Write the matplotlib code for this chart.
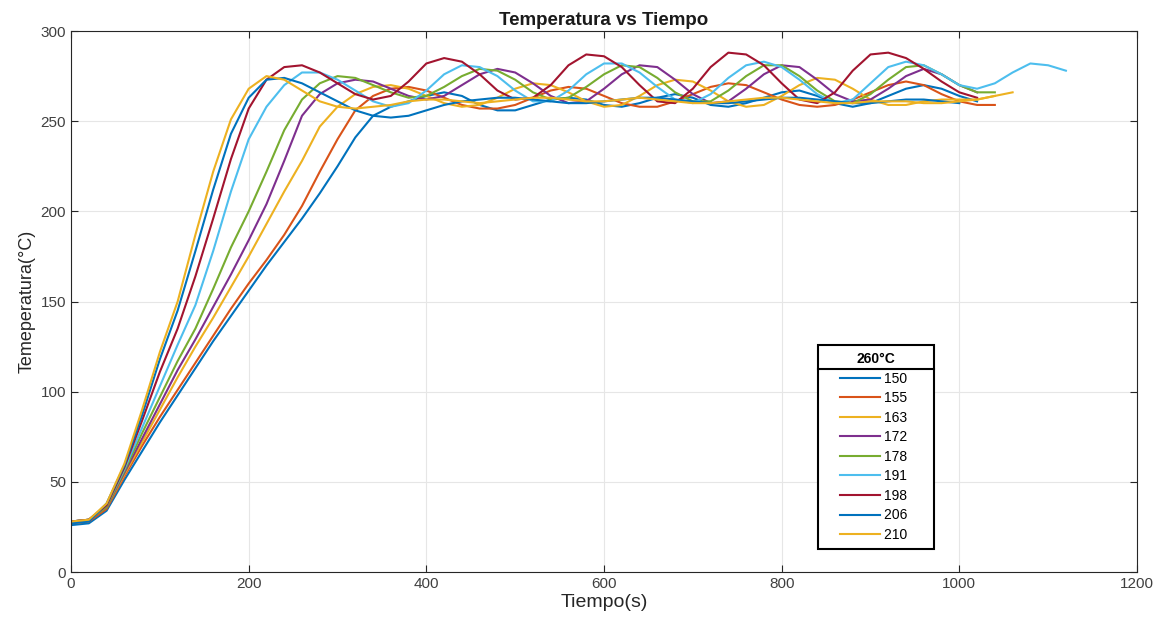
import matplotlib
matplotlib.use('Agg')
import numpy as np
import matplotlib.pyplot as plt
from matplotlib.lines import Line2D
from matplotlib.legend_handler import HandlerLine2D

plt.rcParams['font.family'] = ['Liberation Sans', 'DejaVu Sans']

# tiempo de muestreo cada 20 s
t_210 = list(range(0, 1041, 20))
T_210 = [28, 29, 38, 60, 90, 122, 150, 187, 222, 251, 268, 275, 273, 267, 261, 258, 257, 258, 259, 261,
         262, 262, 261, 260, 261, 262, 263, 263, 262, 261, 261, 262, 263, 262, 261, 260, 260, 261, 262, 263,
         263, 262, 261, 260, 260, 261, 261, 261, 260, 260, 261, 262, 264]

t_206 = list(range(0, 1001, 20))
T_206 = [27, 28, 38, 59, 87, 118, 145, 178, 212, 243, 263, 273, 274, 271, 266, 261, 256, 253, 252, 253,
         256, 259, 261, 262, 263, 263, 262, 261, 260, 260, 261, 262, 263, 263, 262, 261, 260, 260, 261, 262,
         263, 263, 262, 261, 260, 260, 261, 262, 262, 261, 260]

t_198 = list(range(0, 1021, 20))
T_198 = [28, 29, 37, 58, 84, 111, 135, 164, 196, 229, 257, 273, 280, 281, 277, 271, 265, 262, 264, 272,
         282, 285, 283, 276, 267, 262, 263, 270, 281, 287, 286, 280, 270, 261, 260, 268, 280, 288, 287, 281,
         271, 262, 260, 266, 278, 287, 288, 285, 279, 272, 266, 263]

t_191 = list(range(0, 1121, 20))
T_191 = [28, 29, 37, 57, 80, 103, 126, 148, 178, 211, 240, 258, 270, 277, 277, 273, 267, 261, 258, 260,
         267, 276, 281, 280, 275, 267, 261, 261, 267, 276, 282, 282, 277, 269, 262, 260, 265, 274, 281, 283,
         280, 273, 265, 260, 262, 271, 280, 283, 281, 276, 270, 268, 271, 277, 282, 281, 278]

t_178 = list(range(0, 1041, 20))
T_178 = [28, 29, 36, 56, 77, 97, 117, 135, 157, 180, 200, 222, 245, 262, 271, 275, 274, 270, 266, 263,
         264, 269, 275, 279, 278, 273, 266, 262, 263, 269, 276, 281, 280, 274, 266, 261, 261, 267, 275, 281,
         281, 275, 267, 261, 260, 265, 273, 280, 281, 276, 270, 266, 266]

t_172 = list(range(0, 1021, 20))
T_172 = [28, 29, 36, 55, 74, 93, 112, 129, 147, 165, 184, 204, 228, 253, 265, 271, 273, 272, 268, 264,
         262, 264, 270, 276, 279, 277, 271, 264, 260, 261, 268, 276, 281, 280, 273, 265, 260, 261, 268, 276,
         281, 280, 273, 265, 261, 262, 268, 275, 279, 276, 270, 266]

t_163 = list(range(0, 1061, 20))
T_163 = [28, 29, 36, 54, 72, 90, 108, 125, 141, 158, 175, 193, 211, 228, 247, 258, 265, 269, 270, 268,
         264, 260, 258, 259, 263, 268, 271, 270, 266, 261, 258, 259, 264, 270, 273, 272, 267, 261, 258, 259,
         264, 270, 274, 273, 268, 262, 259, 259, 261, 262, 262, 262, 264, 266]

t_155 = list(range(0, 1041, 20))
T_155 = [27, 28, 35, 53, 70, 86, 101, 116, 131, 146, 160, 173, 187, 203, 222, 240, 256, 264, 268, 269,
         267, 263, 259, 257, 257, 259, 263, 267, 269, 268, 264, 260, 258, 258, 261, 265, 269, 271, 270, 266,
         262, 259, 258, 259, 262, 266, 270, 272, 270, 265, 261, 259, 259]

t_150 = list(range(0, 1021, 20))
T_150 = [26, 27, 34, 51, 67, 83, 98, 113, 128, 142, 156, 170, 183, 196, 210, 225, 241, 253, 258, 261,
         264, 266, 264, 259, 256, 256, 259, 262, 263, 262, 259, 258, 260, 263, 265, 263, 259, 258, 260, 263,
         266, 267, 264, 260, 258, 260, 264, 268, 270, 268, 264, 261]

etiquetas = ['150', '155', '163', '172', '178', '191', '198', '206', '210']
colores = ['#0072BD', '#D95319', '#EDB120', '#7E2F8E', '#77AC30', '#4DBEEE', '#A2142F', '#0072BD', '#EDB120']

series = [(t_150, T_150), (t_155, T_155), (t_163, T_163), (t_172, T_172), (t_178, T_178),
          (t_191, T_191), (t_198, T_198), (t_206, T_206), (t_210, T_210)]


class LineaCorta(HandlerLine2D):
    # deja un hueco a la izquierda de la linea de la leyenda (como MATLAB)
    def create_artists(self, legend, orig_handle, xdescent, ydescent, width, height, fontsize, trans):
        arts = super().create_artists(legend, orig_handle, xdescent, ydescent, width, height, fontsize, trans)
        for a in arts:
            x = np.asarray(a.get_xdata(), dtype=float)
            if len(x) >= 2:
                a.set_xdata(np.linspace(x[0] + 0.27 * width, x[-1], len(x)))
        return arts


fig = plt.figure(figsize=(11.61, 6.24), dpi=100)
ax = fig.add_axes([0.0612, 0.0833, 0.9181, 0.867])

for (t, T), lab, c in zip(series, etiquetas, colores):
    ax.plot(t, T, color=c, lw=1.5, label=lab + '     ')

ax.set_xlim(0, 1200)
ax.set_ylim(0, 300)
ax.set_xticks(range(0, 1201, 200))
ax.set_yticks(range(0, 301, 50))
ax.grid(True, color='#e6e6e6', lw=0.8)
ax.set_axisbelow(True)
ax.tick_params(direction='in', length=5, colors='#262626', labelsize=11, top=True, right=True,
               labelcolor='#404040')
for s in ax.spines.values():
    s.set_color('#262626')
    s.set_linewidth(0.8)

ax.set_title('Temperatura vs Tiempo', fontsize=13.5, fontweight='bold', color='#1a1a1a', pad=4)
ax.set_xlabel('Tiempo(s)', fontsize=14, color='#262626', labelpad=2)
ax.set_ylabel('Temeperatura(°C)', fontsize=13, color='#262626', labelpad=4)

leg = ax.legend(loc='upper left', bbox_to_anchor=(0.7008, 0.4196), borderaxespad=0,
                title='260°C', fontsize=10, handlelength=3.96, handletextpad=0.3,
                labelspacing=0.4, borderpad=0.5, fancybox=False, edgecolor='black',
                framealpha=1, handler_map={Line2D: LineaCorta()})
leg.get_title().set_fontweight('bold')
leg.get_title().set_fontsize(10)
leg.get_frame().set_linewidth(1.5)

# linea bajo el titulo de la leyenda
fig.canvas.draw()
bb = leg.get_window_extent()
tb = leg.get_title().get_window_extent()
W, H = fig.get_size_inches() * fig.dpi
yl = (tb.y0 - 3) / H
fig.add_artist(Line2D([bb.x0 / W, bb.x1 / W], [yl, yl], color='black', lw=1.5))

fig.savefig('out.png', dpi=100)
